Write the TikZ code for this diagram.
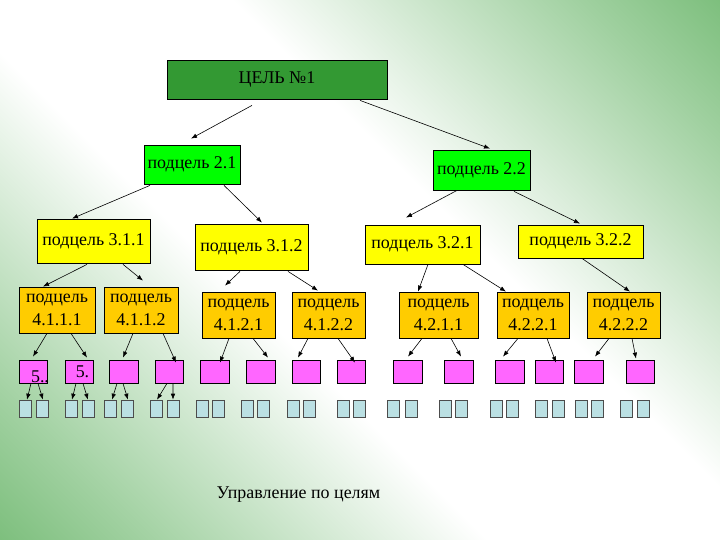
\documentclass[tikz,border=0pt]{standalone}
\usepackage{fontspec}
\setmainfont{Liberation Serif}
\usetikzlibrary{arrows.meta}

\definecolor{bggreen}{RGB}{62,160,62}
\definecolor{goalgreen}{RGB}{51,153,51}
\definecolor{subgreen}{RGB}{0,255,0}
\definecolor{subyellow}{RGB}{255,255,0}
\definecolor{suborange}{RGB}{255,204,0}
\definecolor{taskpink}{RGB}{255,102,255}
\definecolor{taskblue}{RGB}{187,224,227}

\pgfdeclareverticalshading{bgband}{100bp}{color(0bp)=(bggreen); color(22bp)=(bggreen!50!white); color(42bp)=(white); color(58bp)=(white); color(78bp)=(bggreen!50!white); color(100bp)=(bggreen)}

\tikzset{
  box/.style={draw=black, line width=0.8bp, inner sep=0pt, align=center,
    font=\fontsize{18}{23}\selectfont},
  pinkbox/.style={draw=black, line width=0.8bp, fill=taskpink, minimum width=28.5bp, minimum height=23bp, inner sep=0pt},
  bluebox/.style={draw=black!70, line width=0.6bp, fill=taskblue, minimum width=12bp, minimum height=17bp, inner sep=0pt},
  arr/.style={line width=0.6bp, -{Latex[length=6bp,width=4.5bp]}},
}

\begin{document}
\begin{tikzpicture}[x=1bp,y=-1bp]
            \shade[shading=bgband, shading angle=-45] (0,0) rectangle (720,540);

            \node (goal) at (277,79.5) [box,fill=goalgreen,minimum width=220bp,minimum height=39bp] {ЦЕЛЬ №1};
            \node (s21) at (192,164.5) [box,fill=subgreen,minimum width=96bp,minimum height=39bp] {подцель 2.1};
            \node (s22) at (481.5,170) [box,fill=subgreen,minimum width=97bp,minimum height=40bp] {подцель 2.2};

            \node (s311) at (93.5,241) [box,fill=subyellow,minimum width=113bp,minimum height=44bp] {подцель 3.1.1};
            \node (s312) at (251.5,247) [box,fill=subyellow,minimum width=113bp,minimum height=46bp] {подцель 3.1.2};
            \node (s321) at (422.5,244.5) [box,fill=subyellow,minimum width=115bp,minimum height=39bp] {подцель 3.2.1};
            \node (s322) at (580.5,241.5) [box,fill=subyellow,minimum width=125bp,minimum height=33bp] {подцель 3.2.2};

            \node (s4111) at (57,310) [box,fill=suborange,minimum width=76bp,minimum height=46bp] {подцель\\4.1.1.1};
            \node (s4112) at (141,310) [box,fill=suborange,minimum width=74bp,minimum height=46bp] {подцель\\4.1.1.2};
            \node (s4121) at (238.5,315) [box,fill=suborange,minimum width=73bp,minimum height=46bp] {подцель\\4.1.2.1};
            \node (s4122) at (328.5,315) [box,fill=suborange,minimum width=73bp,minimum height=46bp] {подцель\\4.1.2.2};
            \node (s4211) at (438.5,315) [box,fill=suborange,minimum width=79bp,minimum height=46bp] {подцель\\4.2.1.1};
            \node (s4221) at (533,315) [box,fill=suborange,minimum width=72bp,minimum height=46bp] {подцель\\4.2.2.1};
            \node (s4222) at (623.5,315) [box,fill=suborange,minimum width=73bp,minimum height=46bp] {подцель\\4.2.2.2};

            \foreach \x [count=\i] in {33.5,79.5,124,169.5,215,261,306.5,351.5,408,459,510,549.5,589,640.5}
              \node (p\i) at (\x,371.5) [pinkbox] {};
            \foreach \x [count=\i] in {25.5,42,71.5,88,110.5,127.5,156.5,173,202,218,247,263.5,293,309,343.5,359.5,393.5,411,445,461.5,496,512.5,541.5,558,581,597,626,643}
              \node (b\i) at (\x,408.5) [bluebox] {};

            \node (t1) at (40,376.5) [font=\fontsize{18}{20}\selectfont] {5..};
            \node (t2) at (82.5,371.5) [font=\fontsize{18}{20}\selectfont] {5.};

            \draw[arr] ([shift={(-25,6)}]goal.south) -- ([shift={(-1,-6)}]s21.north);
            \draw[arr] ([shift={(83,1)}]goal.south) -- ([shift={(8.5,-1)}]s22.north);

            \draw[arr] ([shift={(-42,1)}]s21.south) -- ([shift={(-21.5,0)}]s311.north);
            \draw[arr] ([shift={(32,1)}]s21.south) -- ([shift={(10.5,-1)}]s312.north);
            \draw[arr] ([shift={(-24.5,0)}]s22.south) -- ([shift={(-16.5,-7)}]s321.north);
            \draw[arr] ([shift={(32.5,1)}]s22.south) -- ([shift={(-0.5,-1)}]s322.north);

            \draw[arr] ([shift={(-6.5,1)}]s311.south) -- ([shift={(-14,0)}]s4111.north);
            \draw[arr] ([shift={(29.5,1)}]s311.south) -- ([shift={(2,-6)}]s4112.north);
            \draw[arr] ([shift={(-11.5,1)}]s312.south) -- ([shift={(-13.5,-6)}]s4121.north);
            \draw[arr] ([shift={(36.5,1)}]s312.south) -- ([shift={(-10.5,-1)}]s4122.north);
            \draw[arr] ([shift={(5.5,0)}]s321.south) -- ([shift={(-20.5,0)}]s4211.north);
            \draw[arr] ([shift={(40.5,0)}]s321.south) -- ([shift={(-27,0)}]s4221.north);
            \draw[arr] ([shift={(1.5,0)}]s322.south) -- ([shift={(6.5,0)}]s4222.north);

            \draw[arr] ([shift={(-10,0)}]s4111.south) -- ([shift={(-0.5,-3)}]p1.north);
            \draw[arr] ([shift={(14,0)}]s4111.south) -- ([shift={(7.5,-2)}]p2.north);
            \draw[arr] ([shift={(-8,0)}]s4112.south) -- ([shift={(-1,-2)}]p3.north);
            \draw[arr] ([shift={(22,0)}]s4112.south) -- ([shift={(6.5,3)}]p4.north);
            \draw[arr] ([shift={(-9.5,0)}]s4121.south) -- ([shift={(5,3)}]p5.north);
            \draw[arr] ([shift={(14.5,0)}]s4121.south) -- ([shift={(7,-2)}]p6.north);
            \draw[arr] ([shift={(-20.5,0)}]s4122.south) -- ([shift={(-8.5,-2)}]p7.north);
            \draw[arr] ([shift={(9.5,0)}]s4122.south) -- ([shift={(3.5,3)}]p8.north);
            \draw[arr] ([shift={(-16.5,0)}]s4211.south) -- ([shift={(0,-3)}]p9.north);
            \draw[arr] ([shift={(12.5,0)}]s4211.south) -- ([shift={(2,-3)}]p10.north);
            \draw[arr] ([shift={(-15,0)}]s4221.south) -- ([shift={(-7,-3)}]p11.north);
            \draw[arr] ([shift={(14,0)}]s4221.south) -- ([shift={(6.5,3)}]p12.north);
            \draw[arr] ([shift={(-14.5,0)}]s4222.south) -- ([shift={(6,-3)}]p13.north);
            \draw[arr] ([shift={(8.5,0)}]s4222.south) -- ([shift={(-4.5,-1)}]p14.north);

            \draw[arr] ([shift={(-2.5,0)}]p1.south) -- ([shift={(1.5,0)}]b1.north);
            \draw[arr] ([shift={(4.5,0)}]p1.south) -- ([shift={(1,0)}]b2.north);
            \draw[arr] ([shift={(-3.5,0)}]p2.south) -- ([shift={(0.5,0)}]b3.north);
            \draw[arr] ([shift={(3.5,0)}]p2.south) -- (b4.north);
            \draw[arr] ([shift={(-7,0)}]p3.south) -- ([shift={(1.5,0)}]b5.north);
            \draw[arr] ([shift={(-1,0)}]p3.south) -- ([shift={(0.5,0)}]b6.north);
            \draw[arr] ([shift={(-2.5,0)}]p4.south) -- ([shift={(0.5,0)}]b7.north);
            \draw[arr] ([shift={(3.5,0)}]p4.south) -- (b8.north);

            \node (caption) at (298.5,495) [font=\fontsize{18}{20}\selectfont] {Управление по целям};

        \end{tikzpicture}
\end{document}
